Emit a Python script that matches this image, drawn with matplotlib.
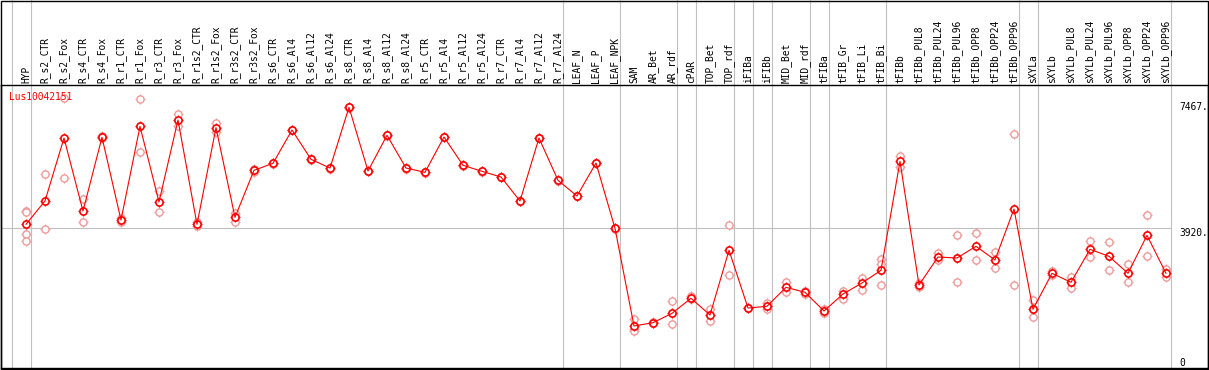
import matplotlib
matplotlib.use("Agg")
import matplotlib.pyplot as plt
from matplotlib.patches import Rectangle

# ---------------- data ----------------
GENE = "Lus10042151"

samples = [
    "HYP",
    "R_s2_CTR", "R_s2_Fox", "R_s4_CTR", "R_s4_Fox", "R_r1_CTR", "R_r1_Fox",
    "R_r3_CTR", "R_r3_Fox", "R_r1s2_CTR", "R_r1s2_Fox", "R_r3s2_CTR", "R_r3s2_Fox",
    "R_s6_CTR", "R_s6_Al4", "R_s6_Al12", "R_s6_Al24",
    "R_s8_CTR", "R_s8_Al4", "R_s8_Al12", "R_s8_Al24",
    "R_r5_CTR", "R_r5_Al4", "R_r5_Al12", "R_r5_Al24",
    "R_r7_CTR", "R_r7_Al4", "R_r7_Al12", "R_r7_Al24",
    "LEAF_N", "LEAF_P", "LEAF_NPK",
    "SAM", "AR_Bet", "AR_rdf", "cPAR", "TOP_Bet", "TOP_rdf",
    "iFIBa", "iFIBb", "MID_Bet", "MID_rdf", "tFIBa",
    "tFIB_Gr", "tFIB_Li", "tFIB_Bi",
    "tFIBb", "tFIBb_PUL8", "tFIBb_PUL24", "tFIBb_PUL96",
    "tFIBb_OPP8", "tFIBb_OPP24", "tFIBb_OPP96",
    "sXYLa", "sXYLb", "sXYLb_PUL8", "sXYLb_PUL24", "sXYLb_PUL96",
    "sXYLb_OPP8", "sXYLb_OPP24", "sXYLb_OPP96",
]

means = [
    4034,
    4688, 6456, 4407, 6476, 4154, 6784, 4660, 6961, 4034, 6747, 4230, 5549,
    5746, 6681, 5858, 5614,
    7318, 5530, 6532, 5614,
    5493, 6485, 5690, 5521,
    5361, 4688, 6456, 5269,
    4828, 5754, 3921,
    1179, 1272, 1535, 1956, 1488, 3304,
    1684, 1732, 2265, 2125, 1600,
    2077, 2386, 2742,
    5802, 2330, 3116, 3088, 3416, 3032, 4463,
    1648, 2658, 2406, 3332, 3135, 2658, 3725, 2658,
]

replicates = [
    [4407, 4379, 3753, 3556],
    [5446, 3893], [7570, 5342], [4744, 4098], [6450, 6500], [4202, 4107],
    [7542, 6063], [4968, 4379], [7139, 6784], [4089, 3977], [6869, 6633],
    [4360, 4098], [5600, 5500],
    [5760, 5730], [6690, 6670], [5870, 5845], [5625, 5600],
    [7330, 7305], [5540, 5520], [6545, 6520], [5625, 5600],
    [5505, 5480], [6495, 6475], [5700, 5680], [5530, 5510],
    [5370, 5350], [4700, 4675], [6465, 6445], [5280, 5260],
    [4840, 4815], [5765, 5745], [3930, 3910],
    [1384, 1086, 1048], [1285, 1260], [1881, 1227], [2021, 1928],
    [1648, 1311], [4006, 2602],
    [1695, 1675], [1833, 1648], [2423, 2125], [2160, 2090], [1656, 1535],
    [2170, 1937], [2526, 2180], [3060, 2919, 2330],
    [5951, 5650], [2400, 2260], [3219, 3032], [3725, 2406],
    [3781, 3032], [3265, 2798], [6568, 2330],
    [1909, 1423], [2720, 2600], [2563, 2254], [3565, 3125],
    [3528, 2742], [2911, 2406], [4286, 3135], [2779, 2563],
]

# last sample of each tissue group (a grey separator follows it)
group_ends = ["HYP", "R_r7_Al24", "LEAF_NPK", "AR_rdf", "cPAR", "TOP_rdf",
              "iFIBa", "iFIBb", "MID_rdf", "tFIBa", "tFIB_Bi",
              "tFIBb_OPP96", "sXYLa", "sXYLb_OPP96"]

y_ticks = [7467, 3920, 0]
y_tick_labels = ["7467.", "3920.", "0"]

# ---------------- figure ----------------
W, H = 1209, 370
fig = plt.figure(figsize=(W / 100, H / 100), dpi=100)
fig.patch.set_facecolor("white")

# plot box in pixels: left 1, right 1208, top 85, bottom 368
ax = fig.add_axes([1 / W, 2 / H, 1207 / W, 283 / H])
step = 19.0
x0 = 26.0
ax.set_xlim((1 - x0) / step, (1208 - x0) / step)
ax.set_ylim(0, y_ticks[0] * 283 / 266)

mono = "DejaVu Sans Mono"
fs = 6.9
grey = "#c0c0c0"
red = "#ff0000"
pink = "#ee9a9a"

xs = list(range(len(samples)))

# group separators, running up through the label band
bounds = [-0.75] + [samples.index(s) + 0.25 for s in group_ends]
for b in bounds:
    ax.axvline(b, ymin=0, ymax=368 / 283, color=grey, lw=0.8,
               clip_on=False, zorder=1)

# reference line at middle tick
ax.hlines(y_ticks[1], ax.get_xlim()[0], bounds[-1], color=grey, lw=0.8, zorder=1)

# replicate points
for x, vals in zip(xs, replicates):
    ax.plot([x] * len(vals), vals, linestyle="none", marker="+", ms=7.5,
            mew=0.8, color=pink, zorder=2)
    ax.plot([x] * len(vals), vals, linestyle="none", marker="o", ms=5.2,
            mew=1.0, mfc="white", mec=pink, zorder=2.5)

# mean line
ax.plot(xs, means, linestyle="none", marker="+", ms=7.5, mew=0.9,
        color=red, zorder=3)
ax.plot(xs, means, linestyle="none", marker="o", ms=5.2, mew=0,
        mfc="white", zorder=3.5)
ax.plot(xs, means, color=red, lw=0.8, zorder=4)
ax.plot(xs, means, linestyle="none", marker="o", ms=5.2, mew=1.2,
        mfc="none", mec=red, zorder=5)

# sample labels on top
ax.xaxis.tick_top()
ax.set_xticks(xs)
ax.set_xticklabels(samples, rotation=90, fontsize=fs, family=mono,
                   va="bottom", ha="center")
ax.tick_params(axis="x", length=0, pad=1.2)
ax.set_yticks([])

# value labels at the right
label_x = (1179 - x0) / step
for v, t in zip(y_ticks, y_tick_labels):
    ax.text(label_x, v, t, fontsize=fs, family=mono, ha="left",
            va="bottom" if v == 0 else "top", color="black")

ax.annotate(GENE, xy=(0, 1), xycoords="axes fraction", xytext=(6, -5),
            textcoords="offset points", ha="left", va="top",
            fontsize=fs, family=mono, color=red)

for sp in ax.spines.values():
    sp.set_linewidth(1.0)
    sp.set_color("black")

# outer frame of the whole picture
fig.add_artist(Rectangle((0.5 / W, 1.5 / H), 1207.5 / W, 368 / H,
                         transform=fig.transFigure, fill=False,
                         edgecolor="black", lw=1.0))

fig.savefig("out.png", dpi=100)
